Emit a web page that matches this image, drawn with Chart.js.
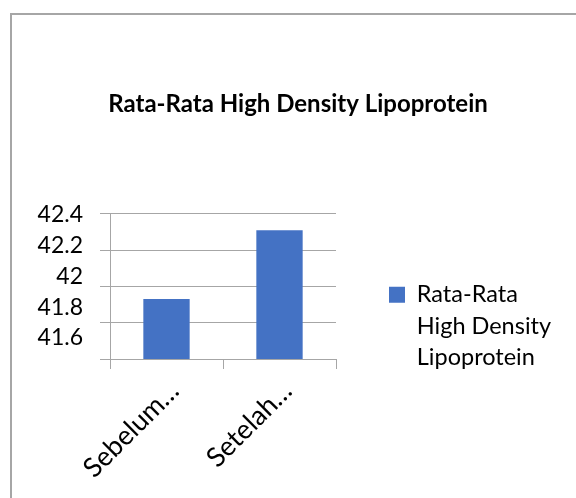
<!DOCTYPE html>
<html>
<head>
<meta charset="utf-8">
<script src="https://cdn.jsdelivr.net/npm/chart.js@4/dist/chart.umd.min.js"></script>
<style>
  html, body { margin: 0; padding: 0; background: #fff; overflow: hidden; }
  #frame { position: absolute; left: 10px; top: 13px; width: 600px; height: 520px;
           border-left: 2px solid #a6a6a6; border-top: 2px solid #a6a6a6; }
  #wrap { position: absolute; left: 0; top: 0; width: 576px; height: 498px; }
</style>
</head>
<body>
<div id="frame"></div>
<div id="wrap"><canvas id="main-chart"></canvas></div>
<script>
    const categories = ['Sebelum…', 'Setelah…'];
    const seriesName = 'Rata-Rata High Density Lipoprotein';
    const seriesLines = ['Rata-Rata', 'High Density', 'Lipoprotein'];
    const values = [41.93, 42.31];
    const yTicks = [41.6, 41.8, 42.0, 42.2, 42.4];

    const font = 'Lato, "Liberation Sans", sans-serif';
    const barColor = '#4472c4';
    const gridColor = '#a6a6a6';

    // fixed legend width, legend item placed where the original has it,
    // title nudged right a little like in the original
    const legendBox = {
        id: 'legendBox',
        afterInit(chart) {
            const lg = chart.legend;
            const fit = lg.fit.bind(lg);
            lg.fit = function () { fit(); this.width = 240; };
        },
        afterLayout(chart) {
            const lg = chart.legend;
            lg.left = 379;
            lg.right = 576;
            lg.top = 273;
            lg.bottom = 498;
            chart.titleBlock.left = 20;
        }
    };

    function createBarChart(element) {
        return new Chart(element, {
            type: 'bar',
            data: {
                labels: categories,
                datasets: [{
                    label: seriesName,
                    data: values,
                    backgroundColor: barColor,
                    borderWidth: 0,
                    categoryPercentage: 1,
                    barPercentage: 0.41
                }]
            },
            plugins: [legendBox],
            options: {
                responsive: true,
                maintainAspectRatio: false,
                animation: false,
                layout: { padding: 0 },
                plugins: {
                    title: {
                        display: true,
                        text: seriesName,
                        color: '#000',
                        font: { family: font, size: 24, weight: 'bold', lineHeight: 1.2 },
                        padding: { top: 90, bottom: 95 }
                    },
                    legend: {
                        position: 'right',
                        align: 'start',
                        labels: {
                            boxWidth: 16,
                            boxHeight: 16,
                            padding: 10,
                            color: '#000',
                            font: { family: font, size: 23.5, lineHeight: 1.34 },
                            generateLabels: c => [{
                                text: seriesLines,
                                fillStyle: barColor,
                                strokeStyle: barColor,
                                lineWidth: 0,
                                datasetIndex: 0
                            }]
                        }
                    },
                    tooltip: { enabled: false }
                },
                scales: {
                    x: {
                        afterFit: axis => { axis.height = 139; axis.paddingLeft = 0; axis.paddingRight = 0; },
                        grid: { offset: true, drawOnChartArea: false, tickLength: 10, color: gridColor },
                        border: { color: gridColor },
                        ticks: {
                            color: '#000',
                            font: { family: font, size: 27 },
                            minRotation: 45,
                            maxRotation: 45,
                            autoSkip: false,
                            padding: 6,
                            labelOffset: 8
                        }
                    },
                    // value axis: bars, gridlines and tick marks
                    y: {
                        min: 41.6,
                        max: 42.4,
                        weight: 0,
                        afterBuildTicks: axis => { axis.ticks = yTicks.map(v => ({ value: v })); },
                        afterFit: axis => { axis.width = 10; axis.paddingTop = 0; axis.paddingBottom = 0; },
                        grid: { color: gridColor, tickLength: 10 },
                        border: { color: gridColor },
                        ticks: { display: false }
                    },
                    // tick labels, spaced a bit tighter than the gridlines as in the original
                    yLabels: {
                        type: 'linear',
                        position: 'left',
                        weight: 1,
                        min: 41.464,
                        max: 42.405,
                        afterBuildTicks: axis => { axis.ticks = yTicks.map(v => ({ value: v })); },
                        afterFit: axis => { axis.width = 100; axis.paddingTop = 0; axis.paddingBottom = 0; },
                        grid: { display: false, drawTicks: false },
                        border: { display: false },
                        ticks: {
                            color: '#000',
                            font: { family: font, size: 23 },
                            padding: 17,
                            callback: v => String(+v.toFixed(1))
                        }
                    }
                }
            }
        });
    }

    createBarChart(document.getElementById('main-chart'));
</script>
</body>
</html>
